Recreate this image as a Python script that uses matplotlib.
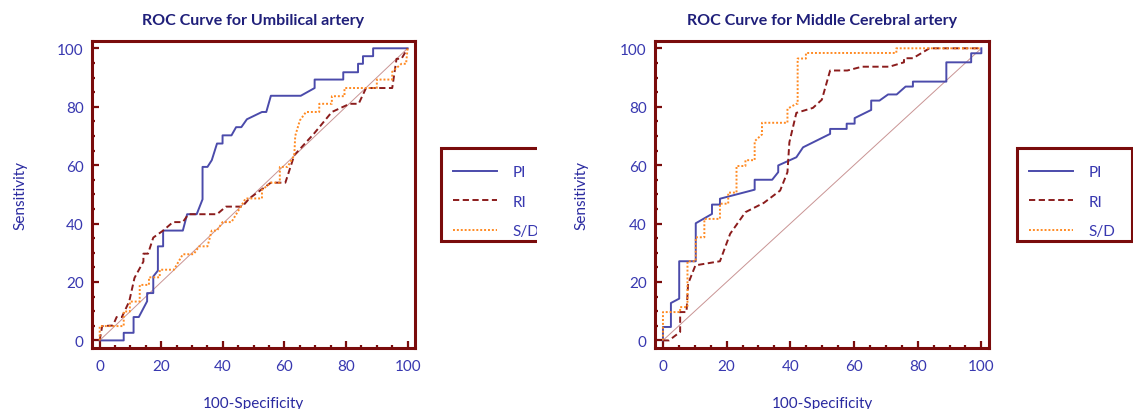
import matplotlib
matplotlib.use("Agg")
import matplotlib.pyplot as plt
from matplotlib.patches import Rectangle
from matplotlib.ticker import MultipleLocator

plt.rcParams['font.family'] = ['Lato', 'DejaVu Sans']

series_names = ["PI", "RI", "S/D"]
titles = ["ROC Curve for Umbilical artery", "ROC Curve for Middle Cerebral artery"]
ticks = [0, 20, 40, 60, 80, 100]

# Umbilical artery
ua_pi_x = [0, 7.8, 7.8, 11, 11, 12.7, 15.4, 15.4, 17.4, 17.4, 18.9, 18.9, 20.6, 20.6, 27, 28.4,
           31.5, 33.4, 33.4, 35, 36.4, 38.1, 39.9, 39.9, 42.8, 44.3, 46, 47.8, 52.7, 54.1, 55.6,
           65.3, 69.8, 69.8, 79.1, 79.1, 83.9, 83.9, 85.5, 85.5, 88.8, 88.8, 100]
ua_pi_y = [0, 0, 2.6, 2.6, 8, 8, 13.4, 16.2, 16.2, 21.9, 23.9, 32.2, 32.2, 37.6, 37.6, 43.2,
           43.2, 48.3, 59.4, 59.4, 61.7, 67.4, 67.4, 70.2, 70.2, 73, 73, 75.7, 78.2, 78.2, 83.75,
           83.75, 86.4, 89.3, 89.3, 91.8, 91.8, 94.7, 94.7, 97.3, 97.3, 100, 100]
ua_ri_x = [0, 0.8, 4.3, 5.5, 7.2, 9.6, 11.3, 14.2, 14.2, 15.7, 17.4, 20.6, 23.8, 27, 28.8, 38.1,
           41, 46.3, 48.6, 55.6, 60.3, 63.2, 69.6, 75.4, 81.2, 84.1, 86.5, 95, 96.4, 98, 100]
ua_ri_y = [0, 4.9, 5.1, 8, 8, 13.4, 21.4, 27, 29.7, 29.7, 35.2, 37.6, 40.5, 40.5, 43.2, 43.2,
           45.8, 45.8, 48.6, 54, 54, 63.4, 70.8, 78.2, 81, 81, 86.4, 86.4, 96.4, 96.4, 100]
ua_sd_x = [0, 0, 7.8, 7.8, 9.8, 9.8, 13, 13, 16, 16, 19.5, 19.5, 24.1, 27, 30.5, 32.3, 35, 36.4,
           38.1, 39.9, 42.8, 47.4, 52.7, 52.7, 55.6, 58.5, 58.5, 61, 63.2, 63.5, 65, 67, 71.3,
           71.3, 75.4, 75.4, 79.5, 79.5, 90, 90, 95, 95, 98, 99.5, 100]
ua_sd_y = [0, 4.9, 4.9, 9.9, 9.9, 13.3, 13.3, 19, 19, 21.6, 21.6, 24.2, 24.2, 29.5, 29.5, 32.2,
           32.2, 37.6, 37.6, 40.5, 40.5, 48.6, 48.6, 51.5, 54, 54, 59.4, 59.4, 63.4, 70, 75.3,
           78.2, 78.2, 81, 81, 83.6, 83.6, 86.4, 86.4, 89.3, 89.3, 92, 94.7, 94.7, 100]

# Middle cerebral artery
mca_pi_x = [0, 0, 2.5, 2.5, 5.1, 5.1, 10.3, 10.3, 15.4, 15.4, 17.9, 17.9, 28.8, 28.8, 34.3, 36.2,
            36.2, 41.9, 44, 52.5, 52.5, 57.7, 57.7, 60.2, 60.2, 65.4, 65.4, 68, 70.7, 73.4, 76.2,
            78.5, 78.5, 89, 89, 96.8, 96.8, 100, 100]
mca_pi_y = [0, 4.6, 4.6, 12.8, 14.3, 27.1, 27.1, 40.1, 43.3, 46.5, 46.5, 48.5, 51.6, 55, 55, 57.6,
            59.9, 62.7, 66.1, 70.7, 72.4, 72.4, 74.2, 74.2, 76.1, 78.9, 82.1, 82.1, 84.2, 84.2,
            86.9, 86.9, 88.6, 88.6, 95.2, 95.2, 98.3, 98.3, 100]
mca_ri_x = [0, 1.9, 5.4, 5.4, 7.4, 7.9, 10.2, 17.9, 21.1, 25.9, 31.7, 36.8, 39.1, 39.7, 41.9, 47.1,
            49.9, 52.5, 57.9, 62.5, 71.1, 75.7, 75.7, 78.5, 83.7, 100]
mca_ri_y = [0, 0, 2.9, 9.7, 9.7, 19.4, 25.7, 27.1, 36.5, 43.9, 47.1, 51.3, 57.6, 67.8, 77.9, 79.6,
            82.4, 92.4, 92.4, 93.7, 93.7, 95.2, 96.6, 96.6, 100, 100]
mca_sd_x = [0, 0, 5.4, 5.4, 7.7, 7.7, 10.3, 10.3, 13, 13, 17.9, 17.9, 20.5, 20.5, 23.1, 23.1, 25.9,
            25.9, 28.8, 28.8, 31.1, 31.1, 39.1, 39.1, 41.9, 42.3, 42.3, 44.9, 44.9, 73.3, 73.3, 100]
mca_sd_y = [0, 9.7, 9.7, 11.4, 11.4, 27.1, 27.1, 35.3, 35.3, 41.6, 41.6, 46.8, 46.8, 50.6, 50.6,
            59.7, 59.7, 61.7, 61.7, 68.2, 70.5, 74.5, 74.5, 79.3, 81, 81, 96.5, 96.5, 98.4, 98.4,
            100, 100]

frame_col = '#7a0c0c'
text_col = '#3838b0'
styles = [dict(color='#4b4bab', ls='-', lw=1.4),
          dict(color='#8b1c1c', ls=(0, (3.2, 1.8)), lw=1.4),
          dict(color='#ff8a22', ls=(0, (1, 1)), lw=1.4)]

W, H = 1133, 410
fig = plt.figure(figsize=(W / 100, H / 100), dpi=100)
ax_l = fig.add_axes([92 / W, 1 - 349 / H, 323 / W, 307 / H])
ax_r = fig.add_axes([655 / W, 1 - 349 / H, 334 / W, 307 / H])

# (axes, curves, legend box left/right in px, handle start in px)
panels = [
    (ax_l, [(ua_pi_x, ua_pi_y), (ua_ri_x, ua_ri_y), (ua_sd_x, ua_sd_y)], 441, 556, 453),
    (ax_r, [(mca_pi_x, mca_pi_y), (mca_ri_x, mca_ri_y), (mca_sd_x, mca_sd_y)], 1017, 1132, 1029),
]

for i, (ax, curves, box_l, box_r, hx) in enumerate(panels):
    ax.plot([0, 100], [0, 100], color='#c99494', lw=0.7)
    for (xs, ys), name, st in zip(curves, series_names, styles):
        ax.plot(xs, ys, label=name, **st)

    ax.set_xlim(-2.5, 102.4)
    ax.set_ylim(-2.6, 102.5)
    ax.set_xticks(ticks)
    ax.set_yticks(ticks)
    ax.xaxis.set_minor_locator(MultipleLocator(5))
    ax.yaxis.set_minor_locator(MultipleLocator(5))
    ax.tick_params(which='both', direction='in', color=frame_col, width=1.6,
                   top=False, right=False)
    ax.tick_params(which='major', length=5, labelsize=11, labelcolor=text_col)
    ax.tick_params(which='minor', length=2.5)
    ax.tick_params(axis='x', pad=8)
    ax.tick_params(axis='y', pad=6)
    for sp in ax.spines.values():
        sp.set_color(frame_col)
        sp.set_linewidth(2.2)

    ax.set_title(titles[i], fontsize=11.5, fontweight='bold', color='#1f1f7a', pad=12)
    ax.set_xlabel("100-Specificity", fontsize=11, color='#2a2aa0')
    ax.xaxis.set_label_coords(0.5, -0.155)
    ax.set_ylabel("Sensitivity", fontsize=11, color='#2a2aa0')
    ax.yaxis.set_label_coords(-0.2, 0.5)

    leg = ax.legend(loc='upper left', bbox_to_anchor=(hx / W, 1 - 166 / H),
                    bbox_transform=fig.transFigure, fontsize=11, frameon=False,
                    handlelength=2.9, handletextpad=1.0, labelspacing=1.02,
                    borderpad=0, borderaxespad=0)
    for t in leg.get_texts():
        t.set_color(text_col)

    fig.add_artist(Rectangle((box_l / W, 1 - 242 / H), (box_r - box_l) / W, 93 / H,
                             transform=fig.transFigure, facecolor='none',
                             edgecolor=frame_col, linewidth=2.2))

# the left legend is cut off at the panel edge in the original
fig.add_artist(Rectangle((537 / W, 0), 28 / W, 1, transform=fig.transFigure,
                         facecolor='white', edgecolor='none', zorder=10))

fig.savefig('out.png', dpi=100)
